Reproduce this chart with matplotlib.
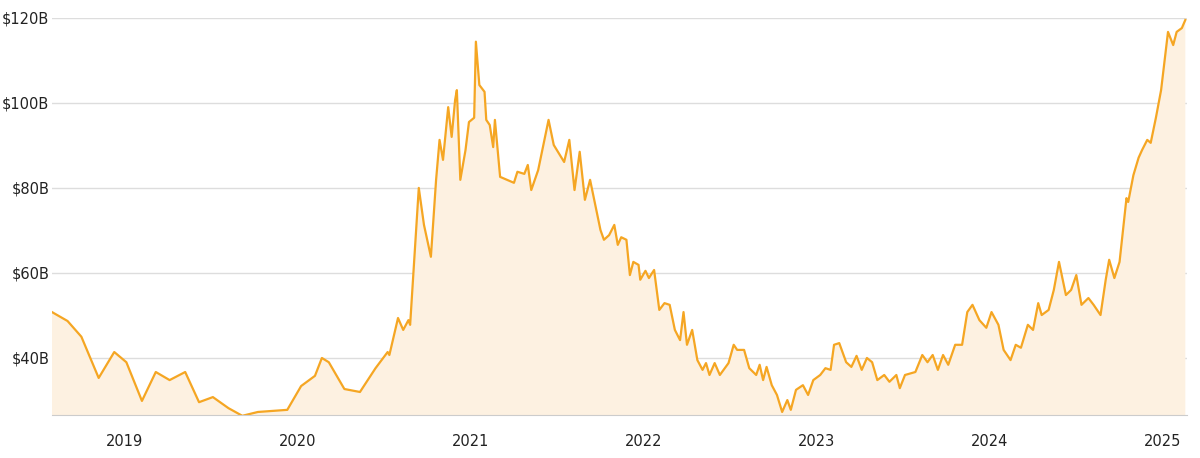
import matplotlib
matplotlib.use("Agg")
import matplotlib.pyplot as plt

years = [2018.58,2018.67,2018.75,2018.85,2018.94,2019.01,2019.10,2019.18,2019.26,2019.35,2019.43,2019.51,2019.60,2019.68,2019.77,2019.94,
2020.02,2020.10,2020.14,2020.18,2020.27,2020.36,2020.45,2020.52,2020.53,2020.58,2020.61,2020.64,2020.65,2020.70,2020.73,2020.77,2020.80,2020.82,2020.84,2020.87,2020.89,2020.91,2020.92,2020.94,2020.97,2020.99,
2021.02,2021.03,2021.05,2021.08,2021.09,2021.11,2021.13,2021.14,2021.17,2021.25,2021.27,2021.31,2021.33,2021.35,2021.39,2021.45,2021.48,2021.54,2021.57,2021.60,2021.63,2021.66,2021.69,2021.72,2021.75,2021.77,2021.80,2021.83,2021.85,2021.87,2021.90,2021.92,2021.94,2021.97,2021.98,
2022.01,2022.03,2022.06,2022.09,2022.12,2022.15,2022.18,2022.21,2022.23,2022.25,2022.28,2022.31,2022.34,2022.36,2022.38,2022.41,2022.44,2022.49,2022.52,2022.54,2022.58,2022.61,2022.65,2022.67,2022.69,2022.71,2022.74,2022.77,2022.80,2022.83,2022.85,2022.88,2022.92,2022.95,2022.98,
2023.02,2023.05,2023.08,2023.10,2023.13,2023.17,2023.20,2023.23,2023.26,2023.29,2023.32,2023.35,2023.39,2023.42,2023.46,2023.48,2023.51,2023.57,2023.61,2023.64,2023.67,2023.70,2023.73,2023.76,2023.80,2023.84,2023.87,2023.90,2023.94,2023.98,
2024.01,2024.05,2024.08,2024.12,2024.15,2024.18,2024.22,2024.25,2024.28,2024.30,2024.34,2024.37,2024.40,2024.44,2024.47,2024.50,2024.53,2024.57,2024.60,2024.64,2024.67,2024.69,2024.72,2024.75,2024.79,2024.80,2024.83,2024.86,2024.88,2024.91,2024.93,2024.96,2024.99,
2025.03,2025.06,2025.08,2025.11,2025.13]

values_b = [50.8,48.7,45,35.3,41.4,39,29.9,36.7,34.8,36.7,29.6,30.8,28.2,26.4,27.3,27.8,
33.4,35.8,40,39,32.7,32,37.6,41.4,40.7,49.4,46.6,48.9,47.8,80,71.3,63.8,81.9,91.3,86.6,99,92,100.7,103,81.9,88.9,95.5,
96.5,114.4,104.2,102.6,96,94.8,89.6,96,82.6,81.2,83.8,83.3,85.4,79.5,84.2,96,90.1,86.1,91.3,79.5,88.5,77.2,81.9,76,70.1,67.8,68.9,71.3,66.6,68.4,67.8,59.5,62.6,61.9,58.4,
60.5,58.8,60.7,51.3,52.9,52.5,46.6,44.2,50.8,43.1,46.6,39.5,37.2,38.8,36,38.8,36,38.8,43.1,41.9,41.9,37.6,36,38.4,34.8,37.9,33.6,31.3,27.3,30.1,27.8,32.5,33.6,31.3,34.8,
36,37.6,37.2,43.1,43.5,39,37.9,40.5,37.2,40,39,34.8,36,34.4,36,32.9,36,36.7,40.7,39,40.7,37.2,40.7,38.4,43.1,43.1,50.8,52.5,48.9,47.1,
50.8,47.8,41.9,39.5,43.1,42.4,47.8,46.6,52.9,50.1,51.3,56,62.6,54.8,56,59.5,52.5,54.1,52.5,50.1,58.4,63.1,58.8,62.6,77.6,76.7,83,87.1,88.9,91.3,90.6,96.5,103,
116.7,113.6,116.7,117.6,119.5]

year_ticks = [2019, 2020, 2021, 2022, 2023, 2024, 2025]
y_ticks = [40, 60, 80, 100, 120]

fig = plt.figure(figsize=(12, 4.58), dpi=100)
ax = fig.add_axes([0.0433, 0.094, 0.9459, 0.867])
line_c = "#F5A623"
ax.fill_between(years, values_b, 0, color="#FDF1E1", lw=0)
ax.plot(years, values_b, color=line_c, lw=1.6)
ax.set_xlim(2018.58, 2025.14)
ax.set_ylim(26.6, 120)
ax.set_xticks(year_ticks)
ax.set_xticklabels([str(y) for y in year_ticks])
ax.set_yticks(y_ticks)
ax.set_yticklabels([f"${v}B" for v in y_ticks])
ax.grid(axis="y", color="#DDDDDD", lw=1)
ax.set_axisbelow(True)
for s in ["top", "right", "left"]:
    ax.spines[s].set_visible(False)
ax.spines["bottom"].set_color("#CCCCCC")
ax.tick_params(axis="both", length=0, labelsize=10.5, colors="#222222")
ax.tick_params(axis="x", pad=14)
ax.tick_params(axis="y", pad=2)
fig.savefig("out.png", dpi=100)
